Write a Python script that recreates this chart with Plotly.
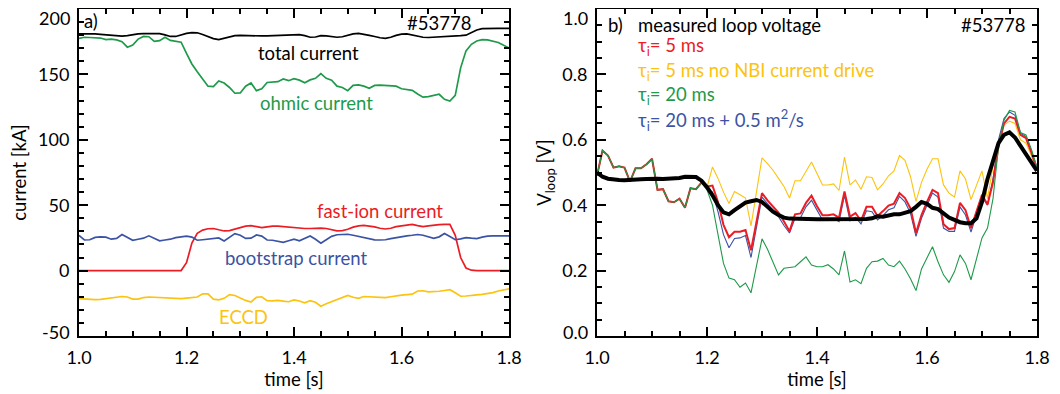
import numpy as np
import plotly.graph_objects as go

# ---------------- data ----------------
time = [round(1.0 + 0.01 * i, 2) for i in range(81)]

total_current = [181, 181, 181.2, 181, 180.6, 180.2, 179.8, 179.4, 179.2, 179.6,
                 180.5, 181, 181.2, 181.3, 181.4, 181.2, 180.2, 179, 179, 180.3,
                 181.4, 182, 181.8, 180.5, 178.8, 177.4, 176.6, 177.5, 178.8, 179.6,
                 179.8, 179.6, 179.4, 179.4, 179.4, 179.5, 179.6, 179.6, 179.8, 180,
                 180.2, 180.4, 179.6, 178.4, 178.6, 179.6, 179.4, 178.8, 178.4, 178.8,
                 180, 181, 181.4, 180.8, 179.8, 179, 178, 177.6, 178.4, 179.8,
                 180.8, 181, 180.2, 179, 178.4, 178.2, 178.4, 178.6, 178.6, 178.8,
                 179.2, 179.6, 180, 182, 184, 185, 185.2, 185.2, 185.2, 185.2, 185.2]

ohmic_current = [177.6, 178.4, 178.2, 177.8, 177.8, 176.6, 177, 176.4, 175, 170.8,
                 172.5, 177, 179, 178.8, 175.2, 175.8, 178.4, 176, 175.2, 174.6,
                 166, 158, 152, 146, 141, 140.6, 145, 143.4, 140, 135.6,
                 135.8, 141, 143.5, 137.6, 139, 143.8, 144.2, 144.4, 146.5, 145.2,
                 146.8, 145.6, 143.6, 145.8, 147, 150.6, 147, 145.6, 141, 140,
                 137.6, 141.6, 142, 141, 139.4, 141.6, 141.8, 141.6, 141.4, 141,
                 139, 138.4, 137.8, 135, 132.6, 133, 133.8, 134.8, 131, 129.6,
                 134, 155, 168, 173, 175.6, 176.6, 176.4, 175.6, 174.4, 172.2, 170.2]

fast_ion_current = [0] * 20 + [6, 21, 28.5, 31, 32, 32.2, 31.2, 30.3, 30.6, 31.8,
                               32.6, 34, 34.4, 33.4, 32.8, 33.4, 34, 34, 33.6, 33.2,
                               32.6, 32.3, 32.2, 32.2, 32.4, 32.4, 32.2, 31.4, 30.4, 30.6,
                               31.6, 33.2, 34.2, 34.6, 34.2, 33.4, 32.4, 31.8, 32.4, 33.6,
                               34.2, 35, 35.4, 34.4, 33.6, 34.2, 34.8, 35.2, 35.4, 35.4,
                               27, 10, 2, 0.3, 0, 0, 0, 0, 0, 0, 0]

bootstrap_current = [27, 23.4, 23.6, 25.4, 25.8, 25.6, 24, 24.6, 27.6, 25.6,
                     23.2, 24, 24.8, 26.6, 25, 22.8, 23.4, 24, 25.2, 26,
                     26.4, 25.6, 23.2, 23.6, 24, 24.8, 25, 22.7, 25.5, 28.3,
                     27, 24.6, 24.8, 27.2, 26.4, 23.4, 23.2, 22.6, 21.6, 22.8,
                     24, 22.8, 24.5, 26.5, 24, 21, 23.6, 26.2, 27.4, 27.6,
                     27.8, 27, 26.2, 25.4, 24.4, 23.5, 23.4, 23.6, 24.4, 25.2,
                     26, 26.6, 27, 27.6, 27, 25.6, 24.6, 25.8, 28.3, 26,
                     23.6, 24.2, 25.2, 24.8, 24.5, 25.6, 26.4, 26.5, 26.5, 26.5, 26.5]

eccd_current = [-21.5, -21.8, -22, -22.2, -22, -21.4, -20.8, -20.4, -19.8, -20.2,
                -21.8, -21.8, -20.6, -20.2, -20.4, -20.6, -21, -21.4, -21.7, -21.4,
                -21, -20.8, -20.2, -17.8, -17.8, -21.8, -22.4, -21.2, -18.4, -19,
                -21.2, -22.8, -24, -20.5, -20, -23, -23.2, -22.8, -23.4, -23.8,
                -22.4, -23.2, -24.6, -23, -24.2, -27.2, -25.4, -23.8, -22, -20.4,
                -19, -20.4, -21.2, -19.8, -20, -20.6, -20.8, -20.6, -20, -19.2,
                -18.8, -18.4, -18, -15.6, -15.4, -16.2, -16.2, -15.8, -15.2, -14.6,
                -17, -19.6, -19.4, -18.8, -18.6, -18.2, -17.6, -16.8, -15.6, -14.6, -13.9]

# loop voltage (panel b)
v_measured = [0.50, 0.487, 0.481, 0.478, 0.477, 0.476, 0.476, 0.477, 0.479, 0.480,
              0.482, 0.481, 0.480, 0.480, 0.481, 0.483, 0.487, 0.488, 0.486, 0.475,
              0.455, 0.43, 0.40, 0.378, 0.372, 0.385, 0.398, 0.408, 0.412, 0.416,
              0.41, 0.395, 0.38, 0.37, 0.362, 0.359, 0.358, 0.358, 0.358, 0.357,
              0.357, 0.357, 0.357, 0.358, 0.358, 0.357, 0.356, 0.356, 0.357, 0.358,
              0.36, 0.366, 0.365, 0.369, 0.372, 0.372, 0.377, 0.382, 0.395, 0.41,
              0.404, 0.392, 0.388, 0.375, 0.362, 0.355, 0.348, 0.345, 0.345, 0.36,
              0.41, 0.48, 0.54, 0.59, 0.615, 0.623, 0.607, 0.582, 0.557, 0.532, 0.505]

v_common = [0.49, 0.567, 0.552, 0.515, 0.519, 0.515, 0.472, 0.513, 0.513, 0.525,
            0.542, 0.447, 0.449, 0.412, 0.409, 0.42, 0.392, 0.452, 0.449, 0.469]

v_tau5 = v_common + [0.457, 0.46, 0.41, 0.34, 0.302, 0.319, 0.319, 0.324, 0.262, 0.35,
                     0.437, 0.415, 0.395, 0.377, 0.35, 0.32, 0.372, 0.375, 0.407, 0.429,
                     0.397, 0.369, 0.369, 0.372, 0.362, 0.442, 0.365, 0.376, 0.352, 0.395,
                     0.395, 0.367, 0.382, 0.399, 0.405, 0.437, 0.422, 0.39, 0.315, 0.37,
                     0.41, 0.447, 0.437, 0.342, 0.327, 0.33, 0.407, 0.385, 0.33, 0.38,
                     0.432, 0.402, 0.47, 0.58, 0.65, 0.67, 0.665, 0.615, 0.605, 0.56, 0.51]

v_tau5_nonbi = v_common + [0.455, 0.517, 0.482, 0.44, 0.405, 0.442, 0.432, 0.422, 0.337, 0.44,
                           0.545, 0.527, 0.507, 0.482, 0.457, 0.422, 0.475, 0.475, 0.502, 0.532,
                           0.497, 0.462, 0.462, 0.465, 0.445, 0.547, 0.462, 0.477, 0.449, 0.487,
                           0.485, 0.447, 0.465, 0.49, 0.505, 0.552, 0.537, 0.487, 0.412, 0.47,
                           0.51, 0.542, 0.542, 0.462, 0.437, 0.425, 0.505, 0.48, 0.417, 0.46,
                           0.505, 0.42, 0.52, 0.6, 0.645, 0.657, 0.65, 0.6, 0.59, 0.55, 0.505]

v_tau20 = v_common + [0.447, 0.40, 0.31, 0.222, 0.177, 0.172, 0.149, 0.162, 0.132, 0.215,
                      0.297, 0.265, 0.225, 0.187, 0.207, 0.209, 0.212, 0.227, 0.242, 0.217,
                      0.212, 0.212, 0.218, 0.205, 0.187, 0.26, 0.165, 0.172, 0.16, 0.207,
                      0.227, 0.229, 0.237, 0.217, 0.212, 0.229, 0.205, 0.175, 0.139, 0.205,
                      0.24, 0.273, 0.227, 0.187, 0.164, 0.197, 0.248, 0.222, 0.172, 0.24,
                      0.30, 0.33, 0.42, 0.58, 0.66, 0.69, 0.685, 0.622, 0.615, 0.57, 0.515]

v_tau20_diff = v_common + [0.45, 0.44, 0.38, 0.31, 0.27, 0.298, 0.30, 0.307, 0.24, 0.335,
                           0.425, 0.405, 0.385, 0.365, 0.338, 0.315, 0.36, 0.362, 0.395, 0.415,
                           0.385, 0.355, 0.355, 0.36, 0.35, 0.43, 0.352, 0.363, 0.343, 0.383,
                           0.38, 0.355, 0.368, 0.386, 0.392, 0.427, 0.41, 0.375, 0.305, 0.36,
                           0.4, 0.437, 0.425, 0.33, 0.32, 0.32, 0.395, 0.37, 0.318, 0.37,
                           0.425, 0.4, 0.48, 0.6, 0.665, 0.685, 0.675, 0.62, 0.61, 0.565, 0.515]

current_ticks = [-50, 0, 50, 100, 150, 200]
voltage_ticks = [0.0, 0.2, 0.4, 0.6, 0.8, 1.0]

# ---------------- styles ----------------
BLACK = "#000000"
GREEN = "#1e9a4a"
RED = "#ec1c24"
BLUE = "#3b53a4"
YELLOW = "#fcc30f"
FONT = "Lato"
TXT = 18.5
TICK = 18

# the page body adds an 8 px offset, so the layout is placed 8 px up/left
W, H = 1060, 394
ML, MR, MT, MB = 71, 31, 1, 66
PW = W - ML - MR


def dom(a, b):
    return [(a - ML) / PW, (b - ML) / PW]


fig = go.Figure()

# panel a
for y, c in [(total_current, BLACK), (ohmic_current, GREEN), (fast_ion_current, RED),
             (bootstrap_current, BLUE), (eccd_current, YELLOW)]:
    fig.add_trace(go.Scatter(x=time, y=y, mode="lines", line=dict(color=c, width=1.7),
                             xaxis="x", yaxis="y", showlegend=False, hoverinfo="skip"))

# panel b
for y, c, w in [(v_tau5_nonbi, YELLOW, 1.1), (v_tau20_diff, BLUE, 1.1), (v_tau5, RED, 2.0),
                (v_tau20, GREEN, 1.1), (v_measured, BLACK, 4.0)]:
    fig.add_trace(go.Scatter(x=time, y=y, mode="lines", line=dict(color=c, width=w),
                             xaxis="x2", yaxis="y2", showlegend=False, hoverinfo="skip"))

tickfont = dict(family=FONT, size=TICK, color="black")
common_axis = dict(showline=True, linecolor="black", linewidth=2, mirror="allticks",
                   ticks="inside", ticklen=9, tickwidth=1.5, tickcolor="black",
                   showgrid=False, zeroline=False, tickfont=tickfont, automargin=False,
                   ticklabelstandoff=4)
minor_x = dict(dtick=0.05, ticks="inside", ticklen=5, tickcolor="black", showgrid=False)

fig.update_layout(
    width=W, height=H,
    margin=dict(l=ML, r=MR, t=MT, b=MB),
    paper_bgcolor="white", plot_bgcolor="white",
    font=dict(family=FONT, size=TXT, color="black"),
    xaxis=dict(domain=dom(71, 501), range=[1.0, 1.8], dtick=0.2, tick0=1.0,
               tickformat=".1f", minor=minor_x,
               title=dict(text="time [s]", font=dict(family=FONT, size=TXT), standoff=3),
               anchor="y", **common_axis),
    yaxis=dict(domain=[0, 1], range=[-50, 200], tickmode="array", tickvals=current_ticks,
               ticktext=["" if v in (-50, 200) else str(v) for v in current_ticks],
               minor=dict(dtick=10, ticks="inside", ticklen=5, tickcolor="black", showgrid=False),
               title=dict(text="current [kA]", font=dict(family=FONT, size=TXT), standoff=8),
               anchor="x", **common_axis),
    xaxis2=dict(domain=dom(589, 1029), range=[1.0, 1.8], dtick=0.2, tick0=1.0,
                tickformat=".1f", minor=minor_x,
                title=dict(text="time [s]", font=dict(family=FONT, size=TXT), standoff=3),
                anchor="y2", **common_axis),
    yaxis2=dict(domain=[0, 1], range=[0, 1], tickmode="array", tickvals=voltage_ticks,
                ticktext=["" if v in (0.0, 1.0) else f"{v:.1f}" for v in voltage_ticks],
                minor=dict(dtick=0.05, ticks="inside", ticklen=5, tickcolor="black", showgrid=False),
                title=dict(text="V<sub>loop</sub> [V]", font=dict(family=FONT, size=TXT), standoff=6),
                anchor="x2", **common_axis),
)

# end tick labels, nudged inward (as in the reference) so they stay inside the page
for txt, yv, ys in [(str(current_ticks[-1]), current_ticks[-1], -9),
                    (str(current_ticks[0]), current_ticks[0], 4)]:
    fig.add_annotation(text=txt, x=0, y=yv, xref="x domain", yref="y", showarrow=False,
                       xanchor="right", yanchor="middle", xshift=-7, yshift=ys,
                       font=tickfont)
for txt, yv, ys in [(f"{voltage_ticks[-1]:.1f}", voltage_ticks[-1], -9),
                    (f"{voltage_ticks[0]:.1f}", voltage_ticks[0], 4)]:
    fig.add_annotation(text=txt, x=0, y=yv, xref="x2 domain", yref="y2", showarrow=False,
                       xanchor="right", yanchor="middle", xshift=-7, yshift=ys,
                       font=tickfont)


def ann(text, x, y, color, xref="x", yref="y", xanchor="center", size=TXT):
    fig.add_annotation(text=text, x=x, y=y, xref=xref, yref=yref, showarrow=False,
                       xanchor=xanchor, yanchor="middle",
                       font=dict(family=FONT, size=size, color=color))


# panel a labels
ann("a)", 1.006, 191, BLACK, xanchor="left")
ann("#53778", 1.733, 189.5, BLACK, xanchor="right")
ann("total current", 1.427, 166.6, BLACK)
ann("ohmic current", 1.442, 127.9, GREEN)
ann("fast-ion current", 1.56, 45.6, RED)
ann("bootstrap current", 1.404, 9.9, BLUE)
ann("ECCD", 1.306, -35.2, YELLOW)

# panel b labels
ann("b)", 1.016, 0.951, BLACK, "x2", "y2", "left")
ann("#53778", 1.782, 0.951, BLACK, "x2", "y2", "right")
ann("measured loop voltage", 1.071, 0.951, BLACK, "x2", "y2", "left")
ann("τ<sub>i</sub>= 5 ms", 1.071, 0.885, RED, "x2", "y2", "left")
ann("τ<sub>i</sub>= 5 ms no NBI current drive", 1.071, 0.81, YELLOW, "x2", "y2", "left")
ann("τ<sub>i</sub>= 20 ms", 1.071, 0.734, GREEN, "x2", "y2", "left")
ann("τ<sub>i</sub>= 20 ms + 0.5 m<sup>2</sup>/s", 1.071, 0.66, BLUE, "x2", "y2", "left")

fig.write_html("out.html")
